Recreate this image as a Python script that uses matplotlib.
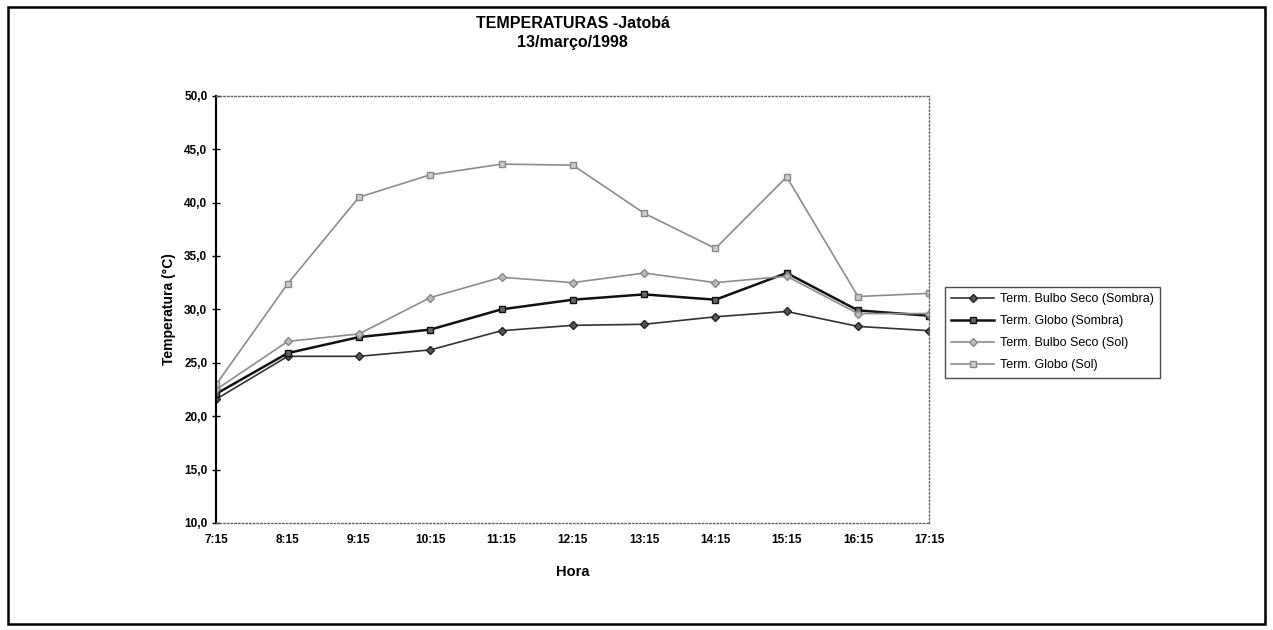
import matplotlib.pyplot as plt
from matplotlib.patches import Rectangle

plt.rcParams['font.family'] = ['Liberation Sans', 'DejaVu Sans']

# data
horas = ['7:15', '8:15', '9:15', '10:15', '11:15', '12:15', '13:15', '14:15', '15:15', '16:15', '17:15']
bulbo_sombra = [21.6, 25.6, 25.6, 26.2, 28.0, 28.5, 28.6, 29.3, 29.8, 28.4, 28.0]
globo_sombra = [22.1, 25.9, 27.4, 28.1, 30.0, 30.9, 31.4, 30.9, 33.4, 29.9, 29.4]
bulbo_sol = [22.5, 27.0, 27.7, 31.1, 33.0, 32.5, 33.4, 32.5, 33.1, 29.6, 29.6]
globo_sol = [23.0, 32.4, 40.5, 42.6, 43.6, 43.5, 39.0, 35.7, 42.4, 31.2, 31.5]

fig = plt.figure(figsize=(12.73, 6.30), dpi=100)
ax = fig.add_axes([0.170, 0.170, 0.560, 0.678])

x = range(len(horas))
ax.plot(x, bulbo_sombra, color='#333333', lw=1.2, marker='D', ms=4.5,
        mfc='#555555', mec='#222222', label='Term. Bulbo Seco (Sombra)')
ax.plot(x, globo_sombra, color='#111111', lw=1.8, marker='s', ms=5,
        mfc='#666666', mec='#111111', label='Term. Globo (Sombra)')
ax.plot(x, bulbo_sol, color='#8c8c8c', lw=1.2, marker='D', ms=4.5,
        mfc='#bbbbbb', mec='#888888', label='Term. Bulbo Seco (Sol)')
ax.plot(x, globo_sol, color='#8c8c8c', lw=1.2, marker='s', ms=5,
        mfc='#cccccc', mec='#888888', label='Term. Globo (Sol)')

ax.set_xlim(0, len(horas) - 1)
ax.set_ylim(10, 50)
ax.set_xticks(list(x))
ax.set_xticklabels(horas, fontsize=8.5, fontweight='bold')
ax.set_yticks(range(10, 51, 5))
ax.set_yticklabels([f'{v},0' for v in range(10, 51, 5)], fontsize=8.5, fontweight='bold')
ax.tick_params(axis='y', direction='inout', length=6, width=1)
ax.tick_params(axis='x', length=0, pad=8)

for side in ['top', 'right', 'bottom']:
    ax.spines[side].set_linestyle(':')
    ax.spines[side].set_color('#666666')
    ax.spines[side].set_linewidth(1)
ax.spines['left'].set_linewidth(1.5)

ax.set_xlabel('Hora', fontsize=10.5, fontweight='bold', labelpad=14)
ax.set_ylabel('Temperatura (°C)', fontsize=10, fontweight='bold', labelpad=6)
ax.set_title('TEMPERATURAS -Jatobá\n13/março/1998', fontsize=11.5, fontweight='bold',
             pad=35, linespacing=1.35)

leg = ax.legend(loc='upper left', bbox_to_anchor=(0.7424, 0.5444),
                bbox_transform=fig.transFigure, borderaxespad=0, fontsize=9,
                frameon=True, fancybox=False, edgecolor='#222222',
                handlelength=3.4, handletextpad=0.5, borderpad=0.5,
                labelspacing=0.8)
leg.get_frame().set_linewidth(1)

fig.patches.append(Rectangle((8 / 1273, 6 / 630), 1257 / 1273, 617 / 630,
                             transform=fig.transFigure, fill=False,
                             edgecolor='black', lw=1.8))

fig.savefig('out.png', dpi=100)
